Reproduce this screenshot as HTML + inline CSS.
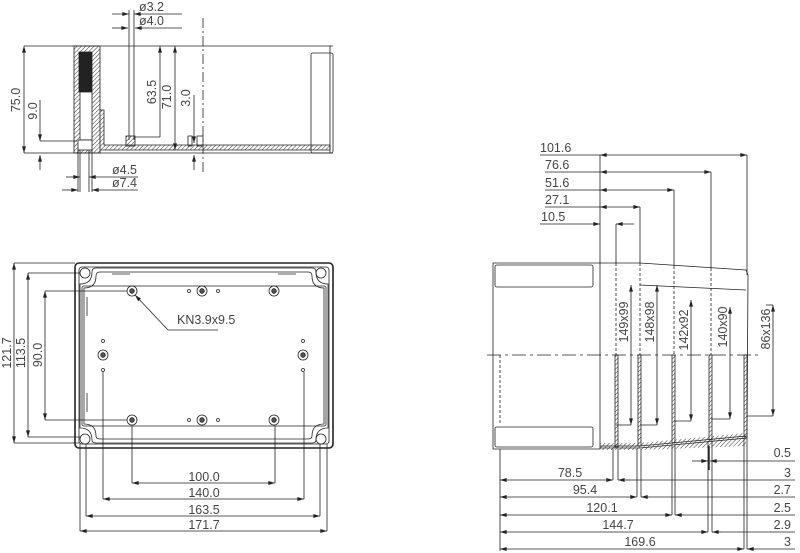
<!DOCTYPE html>
<html><head><meta charset="utf-8"><style>
html,body{margin:0;padding:0;background:#fff;}
svg{display:block;font-family:"Liberation Sans",sans-serif;}
text{font-size:12.5px;fill:#444;}
</style></head><body>
<svg width="800" height="553" viewBox="0 0 800 553" xmlns="http://www.w3.org/2000/svg">
<defs>
<marker id="a" viewBox="0 0 10 6" refX="10" refY="3" markerWidth="9" markerHeight="5" orient="auto-start-reverse"><path d="M0,0L10,3L0,6z" fill="#222"/></marker>
<pattern id="h" width="3" height="3" patternUnits="userSpaceOnUse" patternTransform="rotate(45)"><line x1="0" y1="0" x2="0" y2="3" stroke="#333" stroke-width="1"/></pattern>
</defs>
<g stroke="#222" stroke-width="0.8" fill="none">
<!-- TOP LEFT SIDE SECTION -->
<line x1="24" y1="46" x2="333" y2="46"/>
<line x1="24" y1="153" x2="333" y2="153"/>
<rect x="74" y="46" width="26" height="107" fill="url(#h)"/>
<rect x="79" y="52" width="13" height="40" fill="#222"/>
<rect x="80" y="92" width="12" height="48" fill="#fff"/>
<rect x="78" y="140" width="14" height="10" fill="#fff"/>
<path d="M100,110 L104,110 L104,145 L330,145 L330,150 L100,150" fill="url(#h)"/>
<rect x="126" y="136" width="9" height="10" fill="url(#h)"/>
<rect x="188" y="136" width="4" height="10"/>
<rect x="197" y="136" width="6" height="10"/>
<rect x="311" y="53" width="22" height="100" rx="2"/>
<line x1="330" y1="46" x2="330" y2="153"/>
<line x1="203" y1="18" x2="203" y2="172" stroke-dasharray="10,3,2,3"/>
<!-- dims top-left -->
<line x1="24" y1="46" x2="24" y2="153" marker-start="url(#a)" marker-end="url(#a)"/>
<line x1="40" y1="100" x2="40" y2="141" marker-end="url(#a)"/>
<line x1="40" y1="141" x2="77" y2="141"/>
<line x1="40" y1="170" x2="40" y2="155" marker-end="url(#a)"/>
<line x1="160" y1="46" x2="160" y2="137" marker-start="url(#a)"/>
<line x1="160" y1="137" x2="135" y2="137"/>
<line x1="175" y1="46" x2="175" y2="150" marker-start="url(#a)" marker-end="url(#a)"/>
<line x1="194" y1="95" x2="194" y2="143" marker-end="url(#a)"/>
<line x1="194" y1="170" x2="194" y2="155" marker-end="url(#a)"/>
<line x1="129" y1="10" x2="129" y2="140"/>
<line x1="134" y1="10" x2="134" y2="140"/>
<line x1="112" y1="14" x2="129" y2="14" marker-end="url(#a)"/>
<line x1="182" y1="14" x2="134" y2="14" marker-end="url(#a)"/>
<line x1="112" y1="28" x2="128" y2="28" marker-end="url(#a)"/>
<line x1="182" y1="28" x2="135" y2="28" marker-end="url(#a)"/>
<line x1="80" y1="150" x2="80" y2="192"/>
<line x1="89" y1="150" x2="89" y2="192"/>
<line x1="66" y1="177" x2="80" y2="177" marker-end="url(#a)"/>
<line x1="138" y1="177" x2="89" y2="177" marker-end="url(#a)"/>
<line x1="62" y1="190" x2="78" y2="190" marker-end="url(#a)"/>
<line x1="138" y1="190" x2="92" y2="190" marker-end="url(#a)"/>
<line x1="78" y1="150" x2="78" y2="192"/><line x1="92" y1="150" x2="92" y2="192"/>

<!-- BOTTOM LEFT PLAN -->
<rect x="75" y="263" width="258" height="185" rx="4" stroke-width="1.6"/>
<rect x="79" y="267" width="250" height="177" rx="3"/>
<path d="M96,268 H312 Q316,268 316,272 Q316,284 328,284 V428 Q316,428 316,440 Q316,443 312,443 H96 Q92,443 92,440 Q92,428 80,428 V284 Q92,284 92,272 Q92,268 96,268Z"/>
<path d="M100,272 H308 Q312,272 312,276 Q312,288 324,288 V424 Q312,424 312,436 Q312,439 308,439 H100 Q96,439 96,436 Q96,424 84,424 V288 Q96,288 96,276 Q96,272 100,272Z"/>
<rect x="82" y="286" width="244" height="140" rx="2"/>
<circle cx="85" cy="273" r="5"/><circle cx="321" cy="273" r="5"/>
<circle cx="85" cy="439" r="5"/><circle cx="321" cy="439" r="5"/>
<g fill="#555">
<circle cx="132" cy="291" r="2.3"/><circle cx="202" cy="291" r="2.3"/><circle cx="274" cy="291" r="2.3"/>
<circle cx="103" cy="355" r="2.3"/><circle cx="303" cy="355" r="2.3"/>
<circle cx="132" cy="420" r="2.3"/><circle cx="202" cy="420" r="2.3"/><circle cx="274" cy="420" r="2.3"/>
</g>
<circle cx="132" cy="291" r="5"/><circle cx="202" cy="291" r="5"/><circle cx="274" cy="291" r="5"/>
<circle cx="103" cy="355" r="5"/><circle cx="303" cy="355" r="5"/>
<circle cx="132" cy="420" r="5"/><circle cx="202" cy="420" r="5"/><circle cx="274" cy="420" r="5"/>
<circle cx="189" cy="291" r="1.5"/><circle cx="218" cy="291" r="1.5"/>
<circle cx="189" cy="420" r="1.5"/><circle cx="218" cy="420" r="1.5"/>
<circle cx="103" cy="341" r="1.5"/><circle cx="303" cy="341" r="1.5"/>
<circle cx="103" cy="370" r="1.5"/><circle cx="303" cy="370" r="1.5"/>
<line x1="112" y1="274" x2="130" y2="274"/><line x1="278" y1="274" x2="296" y2="274"/>
<line x1="87" y1="297" x2="87" y2="316"/><line x1="87" y1="393" x2="87" y2="412"/>
<line x1="218" y1="330" x2="168" y2="330"/><line x1="168" y1="330" x2="135" y2="295" marker-end="url(#a)"/>
<!-- dims -->
<line x1="14" y1="263" x2="14" y2="443" marker-start="url(#a)" marker-end="url(#a)"/>
<line x1="14" y1="263" x2="75" y2="263"/><line x1="14" y1="443" x2="80" y2="443"/>
<line x1="28" y1="273" x2="28" y2="437" marker-start="url(#a)" marker-end="url(#a)"/>
<line x1="28" y1="273" x2="80" y2="273"/><line x1="28" y1="437" x2="80" y2="437"/>
<line x1="45" y1="291" x2="45" y2="420" marker-start="url(#a)" marker-end="url(#a)"/>
<line x1="45" y1="291" x2="127" y2="291"/><line x1="45" y1="420" x2="127" y2="420"/>
<line x1="132" y1="426" x2="132" y2="483"/><line x1="275" y1="426" x2="275" y2="483"/>
<line x1="132" y1="483" x2="275" y2="483" marker-start="url(#a)" marker-end="url(#a)"/>
<line x1="103" y1="372" x2="103" y2="499"/><line x1="304" y1="372" x2="304" y2="499"/>
<line x1="103" y1="499" x2="304" y2="499" marker-start="url(#a)" marker-end="url(#a)"/>
<line x1="86" y1="444" x2="86" y2="516"/><line x1="320" y1="444" x2="320" y2="516"/>
<line x1="86" y1="516" x2="320" y2="516" marker-start="url(#a)" marker-end="url(#a)"/>
<line x1="80" y1="444" x2="80" y2="531"/><line x1="327" y1="444" x2="327" y2="531"/>
<line x1="80" y1="531" x2="327" y2="531" marker-start="url(#a)" marker-end="url(#a)"/>

<!-- RIGHT VIEW -->
<path d="M493,263 H600 V449 H493 Z"/>
<rect x="495" y="265" width="98" height="22" rx="2"/>
<rect x="495" y="427" width="98" height="20" rx="2"/>
<line x1="500" y1="355" x2="500" y2="425" stroke-dasharray="3,2"/>
<path d="M600,263 H640 L746,270 L748,275 L747,438 L640,448 H600"/>
<line x1="640" y1="285" x2="746" y2="290"/>
<path d="M600,446 L640,446 L746,436" fill="none"/>
<rect x="615" y="355" width="3" height="92" fill="url(#h)"/>
<rect x="638" y="355" width="3" height="91" fill="url(#h)"/>
<rect x="672" y="355" width="3" height="88" fill="url(#h)"/>
<rect x="709" y="355" width="3" height="85" fill="url(#h)"/>
<rect x="744" y="355" width="3" height="82" fill="url(#h)"/>
<path d="M600,443 L640,443 L746,433 L746,446 L640,450 L600,450Z" fill="url(#h)" stroke="none"/>
<g stroke-dasharray="3,2">
<line x1="616" y1="263" x2="616" y2="355"/><line x1="640" y1="263" x2="640" y2="355"/>
<line x1="674" y1="266" x2="674" y2="355"/><line x1="711" y1="268" x2="711" y2="355"/>
</g>
<line x1="487" y1="355" x2="762" y2="355" stroke-dasharray="14,4,3,4"/>
<!-- top dims -->
<line x1="600" y1="155" x2="600" y2="263"/><line x1="616" y1="224" x2="616" y2="263"/>
<line x1="640" y1="207" x2="640" y2="263"/><line x1="674" y1="190" x2="674" y2="266"/>
<line x1="711" y1="172" x2="711" y2="268"/><line x1="747" y1="155" x2="747" y2="275"/>
<line x1="540" y1="155" x2="600" y2="155"/><line x1="600" y1="155" x2="747" y2="155" marker-start="url(#a)" marker-end="url(#a)"/>
<line x1="545" y1="172" x2="600" y2="172"/><line x1="600" y1="172" x2="711" y2="172" marker-start="url(#a)" marker-end="url(#a)"/>
<line x1="545" y1="190" x2="600" y2="190"/><line x1="600" y1="190" x2="674" y2="190" marker-start="url(#a)" marker-end="url(#a)"/>
<line x1="545" y1="207" x2="600" y2="207"/><line x1="600" y1="207" x2="640" y2="207" marker-start="url(#a)" marker-end="url(#a)"/>
<line x1="540" y1="224" x2="600" y2="224" marker-end="url(#a)"/><line x1="634" y1="224" x2="616" y2="224" marker-end="url(#a)"/>
<!-- vertical inner dims -->
<line x1="631" y1="285" x2="631" y2="425" marker-start="url(#a)" marker-end="url(#a)"/><line x1="616" y1="425" x2="631" y2="425"/>
<line x1="657" y1="285" x2="657" y2="425" marker-start="url(#a)" marker-end="url(#a)"/><line x1="640" y1="425" x2="657" y2="425"/>
<line x1="691" y1="300" x2="691" y2="421" marker-start="url(#a)" marker-end="url(#a)"/><line x1="674" y1="421" x2="691" y2="421"/>
<line x1="730" y1="307" x2="730" y2="419" marker-start="url(#a)" marker-end="url(#a)"/><line x1="711" y1="419" x2="730" y2="419"/>
<line x1="773" y1="305" x2="773" y2="416" marker-start="url(#a)" marker-end="url(#a)"/><line x1="766" y1="305" x2="773" y2="305"/><line x1="747" y1="416" x2="773" y2="416"/>
<!-- bottom dims -->
<line x1="500" y1="449" x2="500" y2="551"/>
<line x1="613" y1="449" x2="613" y2="480"/><line x1="618" y1="449" x2="618" y2="480"/>
<line x1="637" y1="449" x2="637" y2="497"/><line x1="641" y1="449" x2="641" y2="497"/>
<line x1="672" y1="445" x2="672" y2="515"/><line x1="675" y1="445" x2="675" y2="515"/>
<line x1="708" y1="441" x2="708" y2="532"/><line x1="712" y1="441" x2="712" y2="532"/>
<line x1="744" y1="438" x2="744" y2="549"/><line x1="747" y1="438" x2="747" y2="549"/>
<line x1="500" y1="480" x2="613" y2="480" marker-start="url(#a)" marker-end="url(#a)"/><line x1="632" y1="480" x2="618" y2="480" marker-end="url(#a)"/><line x1="632" y1="480" x2="795" y2="480"/>
<line x1="500" y1="497" x2="637" y2="497" marker-start="url(#a)" marker-end="url(#a)"/><line x1="650" y1="497" x2="641" y2="497" marker-end="url(#a)"/><line x1="650" y1="497" x2="795" y2="497"/>
<line x1="500" y1="515" x2="672" y2="515" marker-start="url(#a)" marker-end="url(#a)"/><line x1="685" y1="515" x2="675" y2="515" marker-end="url(#a)"/><line x1="685" y1="515" x2="795" y2="515"/>
<line x1="500" y1="532" x2="708" y2="532" marker-start="url(#a)" marker-end="url(#a)"/><line x1="722" y1="532" x2="712" y2="532" marker-end="url(#a)"/><line x1="722" y1="532" x2="795" y2="532"/>
<line x1="500" y1="549" x2="744" y2="549" marker-start="url(#a)" marker-end="url(#a)"/><line x1="757" y1="549" x2="747" y2="549" marker-end="url(#a)"/><line x1="757" y1="549" x2="795" y2="549"/>
<line x1="692" y1="461" x2="708" y2="461" marker-end="url(#a)"/><line x1="720" y1="461" x2="710" y2="461" marker-end="url(#a)"/><line x1="720" y1="461" x2="795" y2="461"/>
<line x1="709" y1="446" x2="709" y2="470" stroke-width="1.5"/>
</g>
<!-- TEXT -->
<text x="139" y="11">ø3.2</text>
<text x="139" y="25">ø4.0</text>
<text x="112" y="174">ø4.5</text>
<text x="112" y="187">ø7.4</text>
<text transform="translate(20,100) rotate(-90)" text-anchor="middle">75.0</text>
<text transform="translate(37,111) rotate(-90)" text-anchor="middle">9.0</text>
<text transform="translate(156,92) rotate(-90)" text-anchor="middle">63.5</text>
<text transform="translate(171,97) rotate(-90)" text-anchor="middle">71.0</text>
<text transform="translate(190,98) rotate(-90)" text-anchor="middle">3.0</text>
<text x="177" y="324">KN3.9x9.5</text>
<text transform="translate(11,353) rotate(-90)" text-anchor="middle">121.7</text>
<text transform="translate(25,353) rotate(-90)" text-anchor="middle">113.5</text>
<text transform="translate(42,355) rotate(-90)" text-anchor="middle">90.0</text>
<text x="204" y="481" text-anchor="middle">100.0</text>
<text x="204" y="497" text-anchor="middle">140.0</text>
<text x="204" y="514" text-anchor="middle">163.5</text>
<text x="204" y="529" text-anchor="middle">171.7</text>
<text x="540" y="152">101.6</text>
<text x="545" y="169">76.6</text>
<text x="545" y="187">51.6</text>
<text x="545" y="204">27.1</text>
<text x="541" y="221">10.5</text>
<text transform="translate(628,322) rotate(-90)" text-anchor="middle">149x99</text>
<text transform="translate(654,322) rotate(-90)" text-anchor="middle">148x98</text>
<text transform="translate(688,330) rotate(-90)" text-anchor="middle">142x92</text>
<text transform="translate(727,327) rotate(-90)" text-anchor="middle">140x90</text>
<text transform="translate(770,329) rotate(-90)" text-anchor="middle">86x136</text>
<text x="791" y="457" text-anchor="end">0.5</text>
<text x="791" y="477" text-anchor="end">3</text>
<text x="791" y="494" text-anchor="end">2.7</text>
<text x="791" y="512" text-anchor="end">2.5</text>
<text x="791" y="529" text-anchor="end">2.9</text>
<text x="791" y="546" text-anchor="end">3</text>
<text x="570" y="477" text-anchor="middle">78.5</text>
<text x="585" y="494" text-anchor="middle">95.4</text>
<text x="602" y="512" text-anchor="middle">120.1</text>
<text x="618" y="529" text-anchor="middle">144.7</text>
<text x="640" y="546" text-anchor="middle">169.6</text>
</svg>
</body></html>
